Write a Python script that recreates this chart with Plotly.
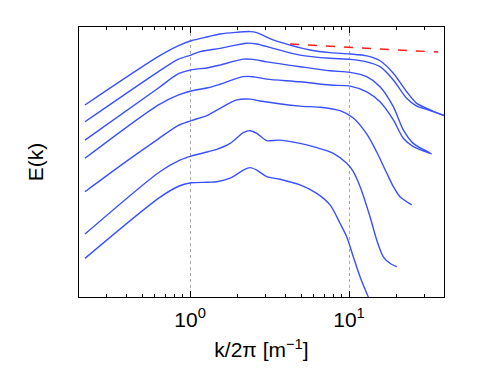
import numpy as np
import plotly.graph_objects as go

# wavenumber k/2pi [1/m] and log10 E(k) for each spectrum, top to bottom
k1 = [0.218, 0.629, 0.84, 1.015, 1.298, 1.544, 2.385, 2.628, 3.327, 4.256, 5.685, 7.596,
      10.15, 12.92, 15.67, 19.0, 23.07, 26.66, 30.82, 40.16]
e1 = [-2.89, -1.10, -0.70, -0.51, -0.36, -0.26, -0.17, -0.21, -0.48, -0.67, -0.85, -0.95,
      -1.00, -1.07, -1.25, -1.71, -2.40, -2.83, -3.01, -3.29]

k2 = [0.218, 0.629, 0.84, 1.015, 1.156, 1.544, 2.273, 2.628, 3.327, 4.918, 7.596, 10.15,
      12.92, 15.67, 19.0, 23.07, 26.66, 30.82, 40.16]
e2 = [-3.51, -1.66, -1.20, -1.04, -0.91, -0.79, -0.60, -0.63, -0.79, -1.04, -1.16, -1.20,
      -1.29, -1.47, -1.96, -2.64, -2.93, -3.05, -3.29]

k3 = [0.218, 0.629, 0.84, 1.015, 1.298, 1.544, 2.154, 2.49, 3.037, 4.918, 7.596, 10.15,
      12.92, 15.67, 19.0, 21.96, 25.38, 32.31]
e3 = [-4.19, -2.27, -1.74, -1.59, -1.51, -1.41, -1.19, -1.20, -1.29, -1.47, -1.62, -1.68,
      -1.84, -2.21, -2.95, -3.81, -4.31, -4.66]

k4 = [0.218, 0.629, 0.84, 1.015, 1.298, 1.544, 2.154, 2.49, 3.037, 4.918, 7.596, 10.15,
      12.92, 15.67, 19.0, 21.96, 25.38, 33.13]
e4 = [-4.86, -2.89, -2.52, -2.37, -2.25, -2.12, -1.84, -1.84, -1.93, -2.03, -2.15, -2.19,
      -2.40, -2.77, -3.44, -4.12, -4.43, -4.70]

k5 = [0.218, 0.407, 0.629, 0.84, 1.015, 1.298, 1.544, 1.967, 2.385, 2.756, 4.918, 6.571,
      8.777, 10.64, 12.92, 14.94, 17.27, 19.0, 20.94, 24.8]
e5 = [-6.10, -4.93, -4.15, -3.65, -3.47, -3.26, -3.01, -2.70, -2.67, -2.74, -2.93, -2.97,
      -3.10, -3.37, -3.96, -4.63, -5.41, -5.91, -6.29, -6.59]

k6 = [0.218, 0.645, 0.862, 1.015, 1.298, 1.472, 1.785, 2.164, 2.385, 2.628, 3.037, 3.592,
      4.918, 6.264, 7.968, 9.672, 10.64, 11.73, 13.56, 14.94, 16.43, 18.11, 19.95]
e6 = [-7.67, -5.36, -4.93, -4.78, -4.62, -4.53, -4.31, -3.91, -3.84, -3.94, -4.21, -4.19,
      -4.31, -4.47, -4.68, -5.05, -5.36, -5.91, -7.03, -7.89, -8.51, -8.75, -8.88]

k7 = [0.218, 0.645, 0.862, 1.015, 1.298, 1.472, 1.785, 2.164, 2.385, 2.628, 3.037, 3.681,
      4.918, 6.264, 7.596, 8.777, 9.672, 10.64, 11.73, 12.92, 13.9]
e7 = [-8.57, -6.31, -5.88, -5.77, -5.75, -5.73, -5.60, -5.30, -5.21, -5.30, -5.54, -5.64,
      -5.85, -6.16, -6.59, -7.27, -7.77, -8.51, -9.25, -9.86, -10.3]

# reference slope (red dashed)
k_ref = [4.256, 36.45]
e_ref = [-0.63, -0.93]

spectra = [(k1, e1), (k2, e2), (k3, e3), (k4, e4), (k5, e5), (k6, e6), (k7, e7)]

fig = go.Figure()

for k, e in spectra:
    fig.add_trace(
        go.Scatter(
            x=k,
            y=10 ** np.array(e),
            mode="lines",
            line={"color": "#3a50ff", "width": 1.4, "shape": "spline", "smoothing": 0.8},
            showlegend=False,
            hoverinfo="skip",
        )
    )

fig.add_trace(
    go.Scatter(
        x=k_ref,
        y=10 ** np.array(e_ref),
        mode="lines",
        line={"color": "#ff1a1a", "width": 1.5, "dash": "dash"},
        showlegend=False,
        hoverinfo="skip",
    )
)

minor_vals = [v * d for d in (0.1, 1, 10) for v in range(2, 10)]

# page body adds an 8px offset, so margins are shifted to compensate
fig.update_layout(
    width=491,
    height=368,
    paper_bgcolor="white",
    plot_bgcolor="white",
    margin={"l": 71, "r": 55, "t": 19, "b": 79},
    font={"family": "Liberation Sans, Arial, sans-serif", "color": "black"},
    xaxis={
        "type": "log",
        "range": [np.log10(0.2), np.log10(39.6)],
        "tickmode": "array",
        "tickvals": [1, 10],
        "ticktext": ["10<sup>0</sup>", "10<sup>1</sup>"],
        "tickfont": {"size": 21},
        "ticklabelstandoff": 4,
        "ticks": "inside",
        "ticklen": 6,
        "tickcolor": "black",
        "showline": True,
        "linecolor": "black",
        "linewidth": 1,
        "mirror": "ticks",
        "showgrid": True,
        "gridcolor": "#aaaaaa",
        "griddash": "dot",
        "gridwidth": 1,
        "zeroline": False,
        "minor": {
            "tickmode": "array",
            "tickvals": minor_vals,
            "ticks": "inside",
            "ticklen": 3,
            "tickcolor": "black",
            "showgrid": False,
        },
        "title": {"text": "k/2π [m<sup>−1</sup>]", "font": {"size": 21}, "standoff": 12},
    },
    yaxis={
        "type": "log",
        "range": [-10, 0],
        "showticklabels": False,
        "ticks": "",
        "showline": True,
        "linecolor": "black",
        "linewidth": 1,
        "mirror": True,
        "showgrid": False,
        "zeroline": False,
        "title": {"text": "E(k)", "font": {"size": 21}, "standoff": 28},
    },
)

fig.write_html("out.html")
